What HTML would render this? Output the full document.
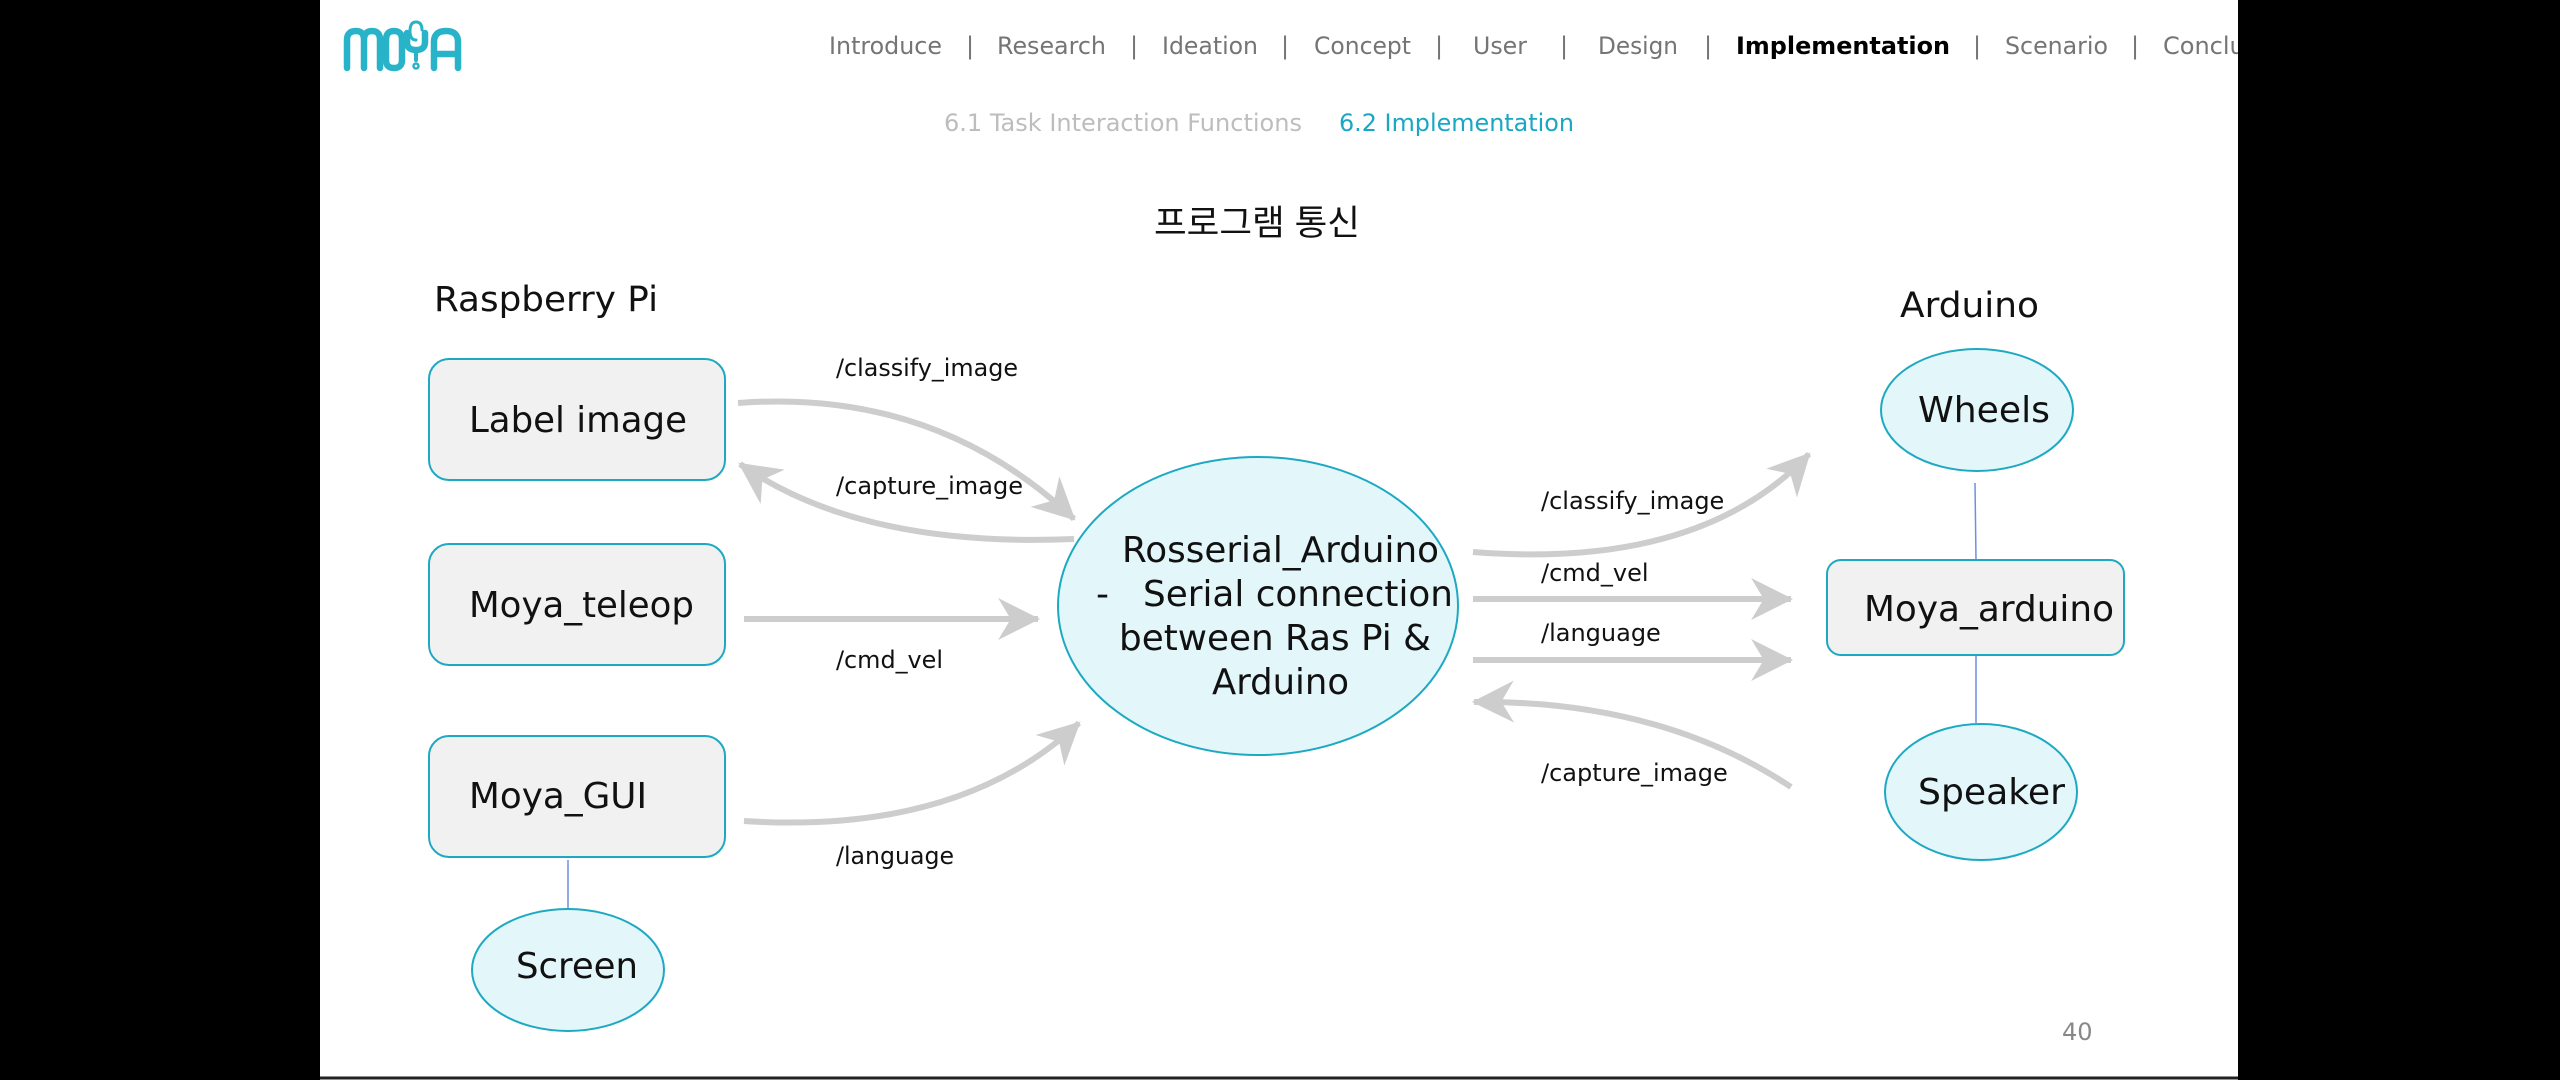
<!DOCTYPE html>
<html><head><meta charset="utf-8"><style>
html,body{margin:0;padding:0;background:#000;}
body{width:2560px;height:1080px;overflow:hidden;position:relative;}
svg{position:absolute;left:0;top:0;}
</style></head><body>
<svg width="2560" height="1080" viewBox="0 0 2560 1080" xmlns="http://www.w3.org/2000/svg">
<defs>
<marker id="ah" viewBox="0 0 20 20" refX="19" refY="10" markerWidth="7" markerHeight="7" markerUnits="strokeWidth" orient="auto">
<path d="M0,0 L20,10 L0,20 L6,10 z" fill="#cdcdcd"/>
</marker>
</defs>
<rect x="320" y="0" width="1918" height="1080" fill="#fff"/>
<line x1="320" y1="1078" x2="2238" y2="1078" stroke="#222" stroke-width="3"/>

<!-- logo -->
<g fill="none" stroke="#29b3c9" stroke-width="6.5" stroke-linecap="round">
<path d="M347,68 V40 Q347,31 356,31 Q364,31 364,40 V68 M364,40 Q364,31 372,31 Q380,31 380,40 V68"/>
<path d="M386,40 Q386,31 394,31 Q402,31 402,40 V60 Q402,68 394,68 Q386,68 386,60 Z"/>
<path d="M407,33 V42 Q407,50 416,50 Q425,50 425,42 V33"/>
<path d="M416,50 V60" stroke-width="4"/>
<path d="M416,40 Q410,40 410,31 Q410,22 416,22 Q422,22 422,30" stroke-width="3"/>
<circle cx="416" cy="66" r="2.5" stroke-width="2.5"/>
<path d="M434,68 V42 Q434,31 446,31 Q458,31 458,42 V68 M434,54 H458"/>
</g>

<g font-family="'DejaVu Sans','Liberation Sans',sans-serif" font-size="24" fill="#757575">
<text x="829" y="54" textLength="113" lengthAdjust="spacingAndGlyphs">Introduce</text>
<text x="966" y="54">|</text>
<text x="997" y="54" textLength="109" lengthAdjust="spacingAndGlyphs">Research</text>
<text x="1130" y="54">|</text>
<text x="1162" y="54" textLength="96" lengthAdjust="spacingAndGlyphs">Ideation</text>
<text x="1281" y="54">|</text>
<text x="1314" y="54" textLength="97" lengthAdjust="spacingAndGlyphs">Concept</text>
<text x="1435" y="54">|</text>
<text x="1473" y="54" textLength="54" lengthAdjust="spacingAndGlyphs">User</text>
<text x="1560" y="54">|</text>
<text x="1598" y="54" textLength="80" lengthAdjust="spacingAndGlyphs">Design</text>
<text x="1704" y="54">|</text>
<text x="1736" y="54" font-weight="bold" fill="#000" textLength="214" lengthAdjust="spacingAndGlyphs">Implementation</text>
<text x="1973" y="54">|</text>
<text x="2005" y="54" textLength="103" lengthAdjust="spacingAndGlyphs">Scenario</text>
<text x="2131" y="54">|</text>
<text x="2163" y="54">Conclusion</text>
<text x="944" y="131" fill="#bdbdbd" textLength="358" lengthAdjust="spacingAndGlyphs">6.1 Task Interaction Functions</text>
<text x="1339" y="131" fill="#1aa7c4" textLength="235" lengthAdjust="spacingAndGlyphs">6.2 Implementation</text>
</g>
<rect x="2238" y="0" width="322" height="1080" fill="#000"/>

<text x="1154" y="235" textLength="206" lengthAdjust="spacingAndGlyphs" font-family="'Liberation Sans','Noto Sans CJK KR',sans-serif" font-size="35" fill="#111">프로그램 통신</text>

<g font-family="'DejaVu Sans','Liberation Sans',sans-serif" fill="#111">
<text x="434" y="311" font-size="35" textLength="224" lengthAdjust="spacingAndGlyphs">Raspberry Pi</text>
<text x="1900" y="317" font-size="35" textLength="139" lengthAdjust="spacingAndGlyphs">Arduino</text>
</g>

<!-- arrows -->
<g fill="none" stroke="#cdcdcd" stroke-width="6" marker-end="url(#ah)">
<path d="M738,403 Q935,388 1074,519"/>
<path d="M1074,539 Q860,548 740,464"/>
<path d="M744,619 H1038"/>
<path d="M744,821 Q960,835 1079,723"/>
<path d="M1473,552 Q1700,570 1809,454"/>
<path d="M1473,599 H1791"/>
<path d="M1473,660 H1791"/>
<path d="M1791,787 Q1660,700 1474,702"/>
</g>

<!-- connectors -->
<g stroke="#6f8fe0" stroke-width="1.5">
<line x1="568" y1="860" x2="568" y2="909"/>
<line x1="1975" y1="483" x2="1976" y2="560"/>
<line x1="1976" y1="655" x2="1976" y2="723"/>
</g>

<!-- nodes -->
<g stroke="#1ea9c2" stroke-width="2">
<rect x="429" y="359" width="296" height="121" rx="20" fill="#f1f1f1"/>
<rect x="429" y="544" width="296" height="121" rx="20" fill="#f1f1f1"/>
<rect x="429" y="736" width="296" height="121" rx="20" fill="#f1f1f1"/>
<ellipse cx="568" cy="970" rx="96" ry="61" fill="#e3f7fb"/>
<ellipse cx="1258" cy="606" rx="200" ry="149" fill="#e3f7fb"/>
<ellipse cx="1977" cy="410" rx="96" ry="61" fill="#e3f7fb"/>
<rect x="1827" y="560" width="297" height="95" rx="14" fill="#f1f1f1"/>
<ellipse cx="1981" cy="792" rx="96" ry="68" fill="#e3f7fb"/>
</g>

<g font-family="'DejaVu Sans','Liberation Sans',sans-serif" fill="#111" font-size="36">
<text x="469" y="432" textLength="218" lengthAdjust="spacingAndGlyphs">Label image</text>
<text x="469" y="617" textLength="225" lengthAdjust="spacingAndGlyphs">Moya_teleop</text>
<text x="469" y="808" textLength="178" lengthAdjust="spacingAndGlyphs">Moya_GUI</text>
<text x="516" y="978" textLength="122" lengthAdjust="spacingAndGlyphs">Screen</text>
<text x="1122" y="562" textLength="317" lengthAdjust="spacingAndGlyphs">Rosserial_Arduino</text>
<text x="1096" y="606">-</text>
<text x="1143" y="606" textLength="310" lengthAdjust="spacingAndGlyphs">Serial connection</text>
<text x="1119" y="650" textLength="312" lengthAdjust="spacingAndGlyphs">between Ras Pi &amp;</text>
<text x="1212" y="694" textLength="137" lengthAdjust="spacingAndGlyphs">Arduino</text>
<text x="1918" y="422" textLength="132" lengthAdjust="spacingAndGlyphs">Wheels</text>
<text x="1864" y="621" textLength="250" lengthAdjust="spacingAndGlyphs">Moya_arduino</text>
<text x="1918" y="804" textLength="147" lengthAdjust="spacingAndGlyphs">Speaker</text>
</g>

<g font-family="'DejaVu Sans','Liberation Sans',sans-serif" fill="#111" font-size="24">
<text x="836" y="376" textLength="182" lengthAdjust="spacingAndGlyphs">/classify_image</text>
<text x="836" y="494" textLength="187" lengthAdjust="spacingAndGlyphs">/capture_image</text>
<text x="836" y="668" textLength="107" lengthAdjust="spacingAndGlyphs">/cmd_vel</text>
<text x="836" y="864" textLength="118" lengthAdjust="spacingAndGlyphs">/language</text>
<text x="1541" y="509">/classify_image</text>
<text x="1541" y="581">/cmd_vel</text>
<text x="1541" y="641">/language</text>
<text x="1541" y="781">/capture_image</text>
</g>
<text x="2062" y="1040" font-family="'DejaVu Sans','Liberation Sans',sans-serif" font-size="24" fill="#888">40</text>
</svg>
</body></html>
